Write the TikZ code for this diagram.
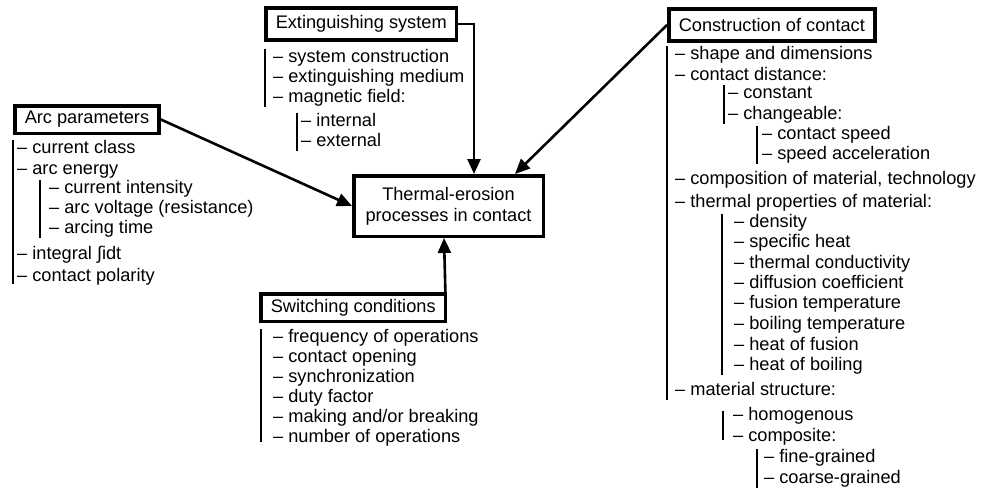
\documentclass[tikz,border=0pt]{standalone}
\usepackage{fontspec}
\setmainfont{Liberation Sans}
\usetikzlibrary{arrows.meta, positioning}
\tikzset{
topic/.style={draw, line width=3.5pt, inner xsep=10pt, anchor=west}, % boxed group headings
core/.style={draw, line width=3.5pt, align=center, minimum width=189.5pt, minimum height=60.5pt}, % the central box
entry/.style={anchor=west, inner sep=0pt, text height=13pt, text depth=4pt}, % one line of a list
bar/.style={line width=2pt}, % vertical rule in front of a list
arr/.style={line width=2.6pt, -{Triangle[length=15pt,width=13pt]}}, % heavy arrows into the centre
}

\begin{document}
\begin{tikzpicture}[x=1pt, y=-1pt, font=\fontsize{18.2}{21}\selectfont]
    \useasboundingbox (0,0) rectangle (983,491);
    % Central box
    \node[core] (core) at (448.5,206) {Thermal-erosion\\processes in contact};
    % Headings
    \node[topic, minimum height=27.5pt] (arc) at (13,119.5) {Arc parameters};
    \node[topic, minimum height=32pt] (ext) at (264,24) {Extinguishing system};
    \node[topic, minimum height=32pt] (cons) at (667,25) {Construction of contact};
    \node[topic, minimum height=27.5pt] (sw) at (259,307.5) {Switching conditions};
    % Arc parameters
    \node[entry] (a1) at (17,149) {– current class};
    \node[entry] (a2) at (17,170) {– arc energy};
    \node[entry] (a3) at (49,189) {– current intensity};
    \node[entry] (a4) at (49,209) {– arc voltage (resistance)};
    \node[entry] (a5) at (49,229) {– arcing time};
    \node[entry] (a6) at (17,255) {– integral ∫idt};
    \node[entry] (a7) at (17,277) {– contact polarity};
    \draw[bar] ([xshift=-4pt]a1.north west) -- ([xshift=-4pt,yshift=2pt]a7.south west);
    \draw[bar] ([xshift=-9pt]a3.north west) -- ([xshift=-9pt]a5.south west);
    % Extinguishing system
    \node[entry] (e1) at (273,58) {– system construction};
    \node[entry] (e2) at (273,78) {– extinguishing medium};
    \node[entry] (e3) at (273,98) {– magnetic field:};
    \node[entry] (e4) at (301,122) {– internal};
    \node[entry] (e5) at (301,142) {– external};
    \draw[bar] ([xshift=-8pt]e1.north west) -- ([xshift=-8pt]e3.south west);
    \draw[bar] ([xshift=-4pt]e4.north west) -- ([xshift=-4pt]e5.south west);
    % Switching conditions
    \node[entry] (s1) at (273,338) {– frequency of operations};
    \node[entry] (s2) at (273,358) {– contact opening};
    \node[entry] (s3) at (273,378) {– synchronization};
    \node[entry] (s4) at (273,398) {– duty factor};
    \node[entry] (s5) at (273,418) {– making and/or breaking};
    \node[entry] (s6) at (273,438) {– number of operations};
    \draw[bar] ([xshift=-12pt]s1.north west) -- ([xshift=-12pt,yshift=5pt]s6.south west);
    % Construction of contact
    \node[entry] (c1) at (675,55) {– shape and dimensions};
    \node[entry] (c2) at (675,76) {– contact distance:};
    \node[entry] (c3) at (728,94) {– constant};
    \node[entry] (c4) at (728,115) {– changeable:};
    \node[entry] (c5) at (762,135) {– contact speed};
    \node[entry] (c6) at (762,155) {– speed acceleration};
    \node[entry] (c7) at (675,180) {– composition of material, technology};
    \node[entry] (c8) at (675,203) {– thermal properties of material:};
    \node[entry] (c9) at (734,223) {– density};
    \node[entry] (c10) at (734,243) {– specific heat};
    \node[entry] (c11) at (734,264) {– thermal conductivity};
    \node[entry] (c12) at (734,284) {– diffusion coefficient};
    \node[entry] (c13) at (734,304) {– fusion temperature};
    \node[entry] (c14) at (734,325) {– boiling temperature};
    \node[entry] (c15) at (734,346) {– heat of fusion};
    \node[entry] (c16) at (734,366) {– heat of boiling};
    \node[entry] (c17) at (675,391) {– material structure:};
    \node[entry] (c18) at (733,416) {– homogenous};
    \node[entry] (c19) at (733,437) {– composite:};
    \node[entry] (c20) at (764,458) {– fine-grained};
    \node[entry] (c21) at (764,479) {– coarse-grained};
    \draw[bar] ([xshift=-8pt]c1.north west) -- ([xshift=-8pt]c17.south west);
    \draw[bar] ([xshift=-4pt]c3.north west) -- ([xshift=-4pt]c4.south west);
    \draw[bar] ([xshift=-5pt]c5.north west) -- ([xshift=-5pt]c6.south west);
    \draw[bar] ([xshift=-12pt]c9.north west) -- ([xshift=-12pt]c16.south west);
    \draw[bar] ([xshift=-10pt,yshift=-4pt]c18.north west) -- ([xshift=-10pt,yshift=6pt]c19.south west);
    \draw[bar] ([xshift=-7pt]c20.north west) -- ([xshift=-7pt]c21.south west);
    % Arrows into the centre
    \draw[arr] (arc.east) -- (core.west);
    \draw[arr] (ext.east) -| ([xshift=25.5pt]core.north);
    \draw[arr] (cons.west) -- ([xshift=-30pt]core.north east);
    \draw[arr] ([xshift=-2pt]sw.north east) -- ([xshift=-4.5pt]core.south);
\end{tikzpicture}
\end{document}
